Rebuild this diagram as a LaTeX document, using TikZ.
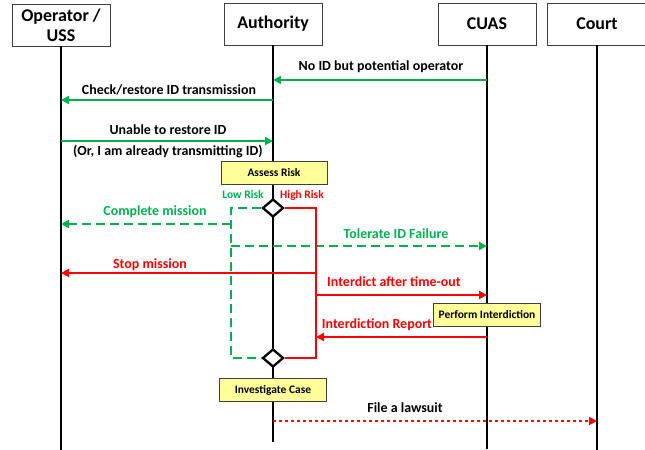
\documentclass[tikz,border=0pt]{standalone}
\usepackage{fontspec}
\setmainfont{Carlito}
\usetikzlibrary{arrows.meta,shapes.geometric}
\definecolor{okgreen}{RGB}{0,176,80}
\definecolor{alertred}{RGB}{255,0,0}
\definecolor{notefill}{RGB}{255,255,153}
\begin{document}
\begin{tikzpicture}[x=1bp,y=-1bp,
  actor/.style={draw=black!75, line width=0.8bp, fill=white, inner sep=0pt,
    minimum width=98bp, minimum height=42bp, align=center,
    font=\bfseries\fontsize{18}{20}\selectfont},
  life/.style={line width=2.3bp, black},
  note/.style={draw=black!75, line width=0.8bp, fill=notefill, inner sep=0pt,
    minimum height=23bp, font=\bfseries\fontsize{11.5}{13}\selectfont},
  choice/.style={shape=diamond, draw=black, line width=2.3bp, fill=white,
    inner sep=0pt, minimum width=21bp, minimum height=18bp},
  msg/.style={line width=2.4bp, -{Triangle[length=8bp,width=8bp]}},
  okmsg/.style={msg, okgreen},
  badmsg/.style={msg, alertred},
  lowdash/.style={dash pattern=on 9bp off 5bp},
  lbl/.style={inner sep=0pt, font=\bfseries\fontsize{14}{16}\selectfont},
  tiny/.style={inner sep=0pt, font=\bfseries\fontsize{11.5}{13}\selectfont}]

\useasboundingbox (0,0) rectangle (645,450);

% participants
\node[actor] (op)    at (61,25)  {Operator /\\USS};
\node[actor] (auth)  at (273,24) {Authority};
\node[actor] (cuas)  at (487,24) {CUAS};
\node[actor, minimum width=100bp] (court) at (597,24) {Court};

% lifeline ends
\coordinate (opEnd)    at (61,451);
\coordinate (authEnd)  at (273,442);
\coordinate (cuasEnd)  at (487,449);
\coordinate (courtEnd) at (597,451);

\draw[life] (op)    -- (opEnd);
\draw[life] (auth)  -- (authEnd);
\draw[life] (cuas)  -- (cuasEnd);
\draw[life] (court) -- (courtEnd);

% message rows and branch columns
\coordinate (r1) at (0,80);
\coordinate (r2) at (0,100);
\coordinate (r3) at (0,141);
\coordinate (r4) at (0,224);
\coordinate (r5) at (0,246);
\coordinate (r6) at (0,273);
\coordinate (r7) at (0,295);
\coordinate (r8) at (0,337);
\coordinate (r9) at (0,421);
\coordinate (lowx)  at (231,0);
\coordinate (highx) at (316,0);

% activity boxes and decisions
\node[note, minimum width=106bp] (assess) at (274,173) {Assess Risk};
\node[choice] (d1) at (273,208) {};
\node[choice] (d2) at (273,358) {};
\node[note, minimum width=107bp] (perform) at (487,315) {Perform Interdiction};
\node[note, minimum width=107bp] (invest)  at (273,390) {Investigate Case};

% identification exchange
\draw[okmsg] (cuas |- r1) -- (auth |- r1);
\node[lbl] (t1) at (381,67) {No ID but potential operator};
\draw[okmsg] (auth |- r2) -- (op |- r2);
\node[lbl] (t2) at (169,90) {Check/restore ID transmission};
\draw[okmsg] (op |- r3) -- (auth |- r3);
\node[lbl] (t3) at (168,130) {Unable to restore ID};
\node[lbl] (t3b) at (168,152) {(Or, I am already transmitting ID)};

% low risk branch
\node[tiny, okgreen] (lowlbl) at (243,195) {Low Risk};
\draw[okgreen, line width=2.4bp, lowdash]
  (d1.west) -- (d1.west -| lowx) -- (d2.west -| lowx) -- (d2.west);
\draw[okmsg, lowdash] (lowx |- r4) -- (op |- r4);
\node[lbl, okgreen] (t4) at (155,212) {Complete mission};
\draw[okmsg, lowdash] (lowx |- r5) -- (cuas |- r5);
\node[lbl, okgreen] (t5) at (396,234) {Tolerate ID Failure};

% high risk branch
\node[tiny, alertred] (highlbl) at (302,195) {High Risk};
\draw[alertred, line width=2.4bp]
  (d1.east) -- (d1.east -| highx) -- (d2.east -| highx) -- (d2.east);
\draw[badmsg] (highx |- r6) -- (op |- r6);
\node[lbl, alertred] (t6) at (150,265) {Stop mission};
\draw[badmsg] (highx |- r7) -- (cuas |- r7);
\node[lbl, alertred] (t7) at (394,282) {Interdict after time-out};
\draw[badmsg] (cuas |- r8) -- (highx |- r8);
\node[lbl, alertred] (t8) at (377,325) {Interdiction Report};

% escalation to court
\draw[badmsg, dash pattern=on 3bp off 3bp] (auth |- r9) -- (court |- r9);
\node[lbl] (t9) at (405,408) {File a lawsuit};
\end{tikzpicture}
\end{document}
